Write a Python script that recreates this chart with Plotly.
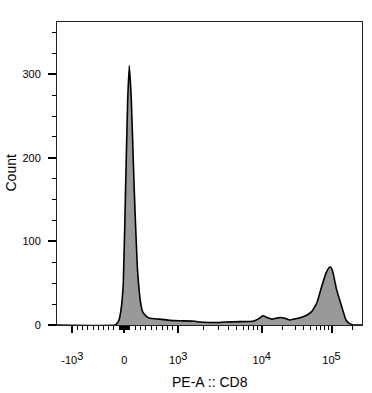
import numpy as np
import plotly.graph_objects as go

# Histogram: position on the display (biex) scale, count
channel_pos = [0, 58, 60, 62, 64, 66.3, 68.7, 70.7, 72.3, 74.3, 77, 80.3, 83.7, 86, 89.7,
               93, 103, 113, 123, 138, 143, 153, 161, 168, 183, 196, 201, 206, 210,
               215, 219, 223, 228, 233, 237, 241, 246, 250, 254.7, 259.7, 264.7, 269,
               272.3, 274, 275.7, 279.7, 284.7, 289, 292.3, 296.3, 305]
counts = [0, 0, 2, 6, 18, 50, 170, 270, 310, 270, 170, 70, 26, 15, 10,
          8, 7, 5.5, 5, 4.5, 3.5, 3, 3, 3.5, 4, 4.5, 7, 11, 9,
          7, 8, 9, 8, 6, 7, 8, 10, 12, 16, 26, 46, 62,
          69, 69, 64, 42, 22, 6, 2, 0, 0]

major_vals = [-1000, 0, 1000, 10000, 100000]
exponents = ["3", "", "3", "4", "5"]
bases = ["-10", "0", "10", "10", "10"]
minor_vals = (list(range(-900, 0, 100)) + list(range(-90, 0, 10)) + list(range(10, 100, 10))
              + list(range(100, 1000, 100)) + list(range(2000, 10000, 1000))
              + list(range(20000, 100000, 10000)) + [200000])


def disp(v):
    """Biexponential-like display position of a fluorescence value."""
    if v < 0:
        return 67.3 + v / 1000 * 52
    if v <= 1000:
        return 67.3 + v / 1000 * 54
    return float(np.interp(np.log10(v), [3, 4, 5, 6], [121.3, 204.7, 274.5, 344.3]))


def label(b, e):
    if not e:
        return b
    return f"{b}<sup><span style='font-size:11px'>{e}</span></sup>"


major_text = [label(b, e) for b, e in zip(bases, exponents)]

fig = go.Figure()
fig.add_trace(go.Scatter(
    x=channel_pos, y=counts, mode="lines",
    line=dict(color="black", width=1.6, shape="spline", smoothing=0.4),
    fill="tozeroy", fillcolor="#999999", hoverinfo="skip", showlegend=False,
))
# invisible trace on the overlay axis carrying the minor ticks
fig.add_trace(go.Scatter(x=[0, 305], y=[0, 0], xaxis="x2", mode="lines",
                         line=dict(width=0), hoverinfo="skip", showlegend=False))

font = dict(family="Liberation Sans, Arial, sans-serif", color="black")

fig.update_layout(
    width=372, height=393,
    margin=dict(l=57, r=10, t=22, b=68),
    paper_bgcolor="white", plot_bgcolor="white",
    font=dict(size=11, **font),
    xaxis=dict(
        range=[0, 305], showgrid=False, zeroline=False, automargin=False,
        showline=True, mirror=True, linecolor="#222", linewidth=1,
        tickmode="array", tickvals=[disp(v) for v in major_vals], ticktext=major_text,
        ticks="outside", ticklen=7, tickwidth=2, tickcolor="black",
        tickfont=dict(size=11, **font), ticklabelstandoff=18,
    ),
    xaxis2=dict(
        range=[0, 305], overlaying="x", side="bottom", anchor="y",
        showgrid=False, zeroline=False, showline=False, automargin=False,
        tickmode="array", tickvals=[disp(v) for v in minor_vals],
        ticks="outside", ticklen=4, tickwidth=1, tickcolor="black",
        showticklabels=False,
    ),
    yaxis=dict(
        range=[0, 362.5], showgrid=False, zeroline=False, automargin=False,
        showline=True, mirror=True, linecolor="#222", linewidth=1,
        tickmode="array", tickvals=[0, 100, 200, 300],
        ticks="outside", ticklen=8, tickwidth=2, tickcolor="black",
        tickfont=dict(size=11, **font), ticklabelstandoff=5,
        minor=dict(tickmode="linear", tick0=0, dtick=25, ticks="outside",
                   ticklen=4, tickwidth=1, tickcolor="black", showgrid=False),
    ),
    annotations=[
        dict(text="PE-A :: CD8", xref="paper", yref="paper", x=0.5, y=0,
             yshift=-57, showarrow=False, yanchor="middle", font=dict(size=14, **font)),
        dict(text="Count", xref="paper", yref="paper", x=0, y=0.5, xshift=-47,
             textangle=-90, showarrow=False, xanchor="center", font=dict(size=14, **font)),
    ],
)

fig.write_html("out.html", config={"displayModeBar": False},
               post_script="document.body.style.margin='0px';")
